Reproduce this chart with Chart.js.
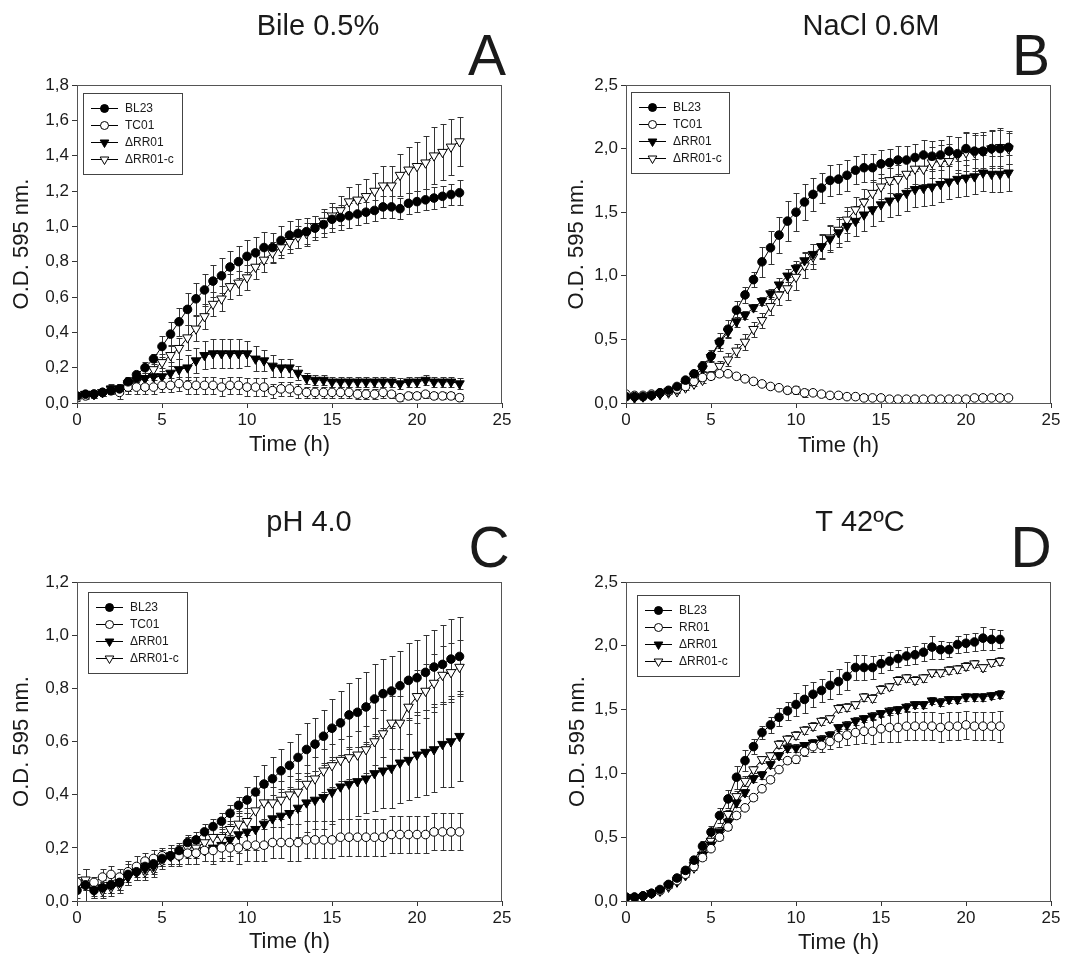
<!DOCTYPE html>
<html><head><meta charset="utf-8">
<script src="https://cdn.jsdelivr.net/npm/chart.js@4.4.1/dist/chart.umd.min.js"></script>
<style>
html,body{margin:0;padding:0;background:#fff;}
#wrap{position:relative;width:1089px;height:958px;overflow:hidden;}
canvas{position:absolute;}
</style></head><body><div id="wrap">
<canvas id="cA" width="545" height="479" style="left:0;top:0"></canvas>
<canvas id="cB" width="544" height="479" style="left:545px;top:0"></canvas>
<canvas id="cC" width="545" height="479" style="left:0;top:479px"></canvas>
<canvas id="cD" width="544" height="479" style="left:545px;top:479px"></canvas>
</div>
<script>
// ---------- data ----------
const timeABC = [0,0.5,1,1.5,2,2.5,3,3.5,4,4.5,5,5.5,6,6.5,7,7.5,8,8.5,9,9.5,10,10.5,11,11.5,12,12.5,13,13.5,14,14.5,15,15.5,16,16.5,17,17.5,18,18.5,19,19.5,20,20.5,21,21.5,22,22.5];
const timeD = [0,0.5,1,1.5,2,2.5,3,3.5,4,4.5,5,5.5,6,6.5,7,7.5,8,8.5,9,9.5,10,10.5,11,11.5,12,12.5,13,13.5,14,14.5,15,15.5,16,16.5,17,17.5,18,18.5,19,19.5,20,20.5,21,21.5,22];
const xTicks = [0,5,10,15,20,25];

// Panel A: Bile 0.5%
const bileBL23 = [0.04,0.05,0.05,0.06,0.07,0.08,0.12,0.16,0.20,0.25,0.32,0.39,0.46,0.53,0.59,0.64,0.69,0.72,0.77,0.80,0.83,0.85,0.88,0.88,0.92,0.95,0.96,0.97,0.99,1.01,1.04,1.05,1.06,1.07,1.08,1.09,1.11,1.11,1.10,1.13,1.14,1.15,1.16,1.17,1.18,1.19];
const bileBL23Err = [0.01,0.01,0.01,0.01,0.02,0.02,0.02,0.02,0.03,0.03,0.06,0.07,0.08,0.09,0.09,0.09,0.09,0.10,0.09,0.09,0.09,0.09,0.09,0.08,0.08,0.08,0.08,0.08,0.07,0.07,0.07,0.07,0.07,0.06,0.06,0.06,0.06,0.06,0.06,0.06,0.06,0.06,0.06,0.06,0.06,0.07];
const bileTC01 = [0.03,0.04,0.05,0.06,0.07,0.06,0.09,0.09,0.09,0.09,0.10,0.10,0.11,0.10,0.10,0.10,0.10,0.09,0.10,0.10,0.09,0.09,0.09,0.07,0.08,0.08,0.07,0.06,0.06,0.06,0.06,0.06,0.06,0.05,0.05,0.05,0.06,0.05,0.03,0.04,0.04,0.05,0.04,0.04,0.04,0.03];
const bileTC01Err = [0.02,0.02,0.02,0.02,0.02,0.04,0.04,0.04,0.04,0.04,0.04,0.04,0.04,0.05,0.05,0.05,0.05,0.05,0.05,0.05,0.05,0.05,0.05,0.04,0.04,0.04,0.04,0.03,0.03,0.03,0.03,0.03,0.03,0.03,0.03,0.03,0.03,0.02,0.02,0.02,0.02,0.02,0.02,0.02,0.02,0.02];
const bileRR01 = [0.04,0.05,0.05,0.06,0.08,0.08,0.11,0.13,0.14,0.15,0.15,0.17,0.19,0.20,0.24,0.27,0.28,0.28,0.28,0.28,0.28,0.25,0.24,0.21,0.20,0.20,0.17,0.14,0.13,0.13,0.12,0.12,0.12,0.12,0.12,0.12,0.12,0.12,0.11,0.12,0.12,0.13,0.12,0.12,0.12,0.11];
const bileRR01Err = [0.01,0.01,0.01,0.02,0.02,0.03,0.04,0.04,0.05,0.05,0.05,0.06,0.06,0.07,0.07,0.08,0.08,0.08,0.08,0.08,0.07,0.07,0.06,0.06,0.05,0.05,0.04,0.03,0.03,0.03,0.03,0.03,0.03,0.03,0.03,0.03,0.03,0.03,0.03,0.03,0.03,0.03,0.03,0.03,0.03,0.03];
const bileRR01c = [0.04,0.05,0.05,0.06,0.08,0.08,0.10,0.12,0.14,0.19,0.23,0.27,0.31,0.37,0.42,0.49,0.56,0.59,0.66,0.68,0.71,0.77,0.81,0.85,0.88,0.91,0.94,0.96,1.00,1.03,1.06,1.09,1.14,1.15,1.17,1.20,1.23,1.23,1.29,1.32,1.34,1.36,1.40,1.42,1.45,1.48];
const bileRR01cErr = [0.02,0.02,0.02,0.02,0.03,0.03,0.03,0.03,0.03,0.04,0.05,0.06,0.06,0.07,0.07,0.07,0.07,0.07,0.07,0.07,0.07,0.07,0.07,0.06,0.06,0.06,0.06,0.06,0.06,0.07,0.07,0.08,0.08,0.09,0.10,0.10,0.11,0.11,0.12,0.13,0.14,0.15,0.16,0.16,0.16,0.14];

// Panel B: NaCl 0.6M
const naclBL23 = [0.05,0.05,0.05,0.06,0.08,0.10,0.13,0.18,0.23,0.29,0.37,0.48,0.58,0.73,0.85,0.97,1.11,1.22,1.32,1.43,1.50,1.58,1.64,1.69,1.75,1.76,1.79,1.83,1.85,1.85,1.88,1.89,1.91,1.91,1.93,1.95,1.94,1.95,1.98,1.96,2.00,1.98,1.98,2.00,2.00,2.01];
const naclBL23Err = [0.01,0.01,0.01,0.01,0.01,0.01,0.02,0.02,0.03,0.04,0.05,0.07,0.07,0.07,0.06,0.06,0.12,0.13,0.14,0.16,0.15,0.14,0.13,0.12,0.12,0.12,0.12,0.11,0.11,0.11,0.11,0.11,0.11,0.11,0.11,0.12,0.12,0.12,0.12,0.13,0.13,0.13,0.13,0.14,0.15,0.13];
const naclTC01 = [0.07,0.06,0.06,0.07,0.08,0.09,0.11,0.13,0.17,0.20,0.21,0.23,0.23,0.21,0.19,0.17,0.15,0.13,0.12,0.10,0.10,0.08,0.08,0.07,0.06,0.06,0.05,0.05,0.04,0.04,0.04,0.03,0.03,0.03,0.03,0.03,0.03,0.03,0.03,0.03,0.03,0.04,0.04,0.04,0.04,0.04];
const naclTC01Err = [0.01,0.01,0.01,0.01,0.01,0.01,0.01,0.01,0.01,0.02,0.02,0.02,0.02,0.02,0.02,0.02,0.02,0.02,0.02,0.02,0.03,0.03,0.02,0.02,0.02,0.02,0.01,0.01,0.01,0.01,0.01,0.01,0.01,0.01,0.01,0.01,0.01,0.01,0.01,0.01,0.01,0.01,0.01,0.01,0.01,0.01];
const naclRR01 = [0.05,0.04,0.05,0.06,0.07,0.09,0.11,0.15,0.21,0.27,0.36,0.47,0.56,0.64,0.69,0.75,0.80,0.86,0.93,1.00,1.06,1.12,1.17,1.23,1.29,1.34,1.39,1.43,1.48,1.52,1.56,1.59,1.62,1.65,1.68,1.69,1.70,1.72,1.74,1.76,1.77,1.78,1.81,1.80,1.80,1.81];
const naclRR01Err = [0.01,0.01,0.01,0.01,0.01,0.01,0.02,0.02,0.02,0.03,0.03,0.04,0.04,0.04,0.03,0.03,0.03,0.04,0.05,0.05,0.06,0.07,0.08,0.09,0.10,0.11,0.12,0.12,0.13,0.13,0.13,0.13,0.14,0.14,0.14,0.14,0.14,0.14,0.14,0.14,0.14,0.14,0.14,0.14,0.14,0.14];
const naclRR01c = [0.05,0.05,0.05,0.06,0.07,0.08,0.09,0.12,0.15,0.18,0.22,0.29,0.34,0.41,0.48,0.58,0.65,0.76,0.85,0.90,0.99,1.08,1.15,1.23,1.30,1.36,1.44,1.52,1.58,1.65,1.70,1.75,1.76,1.80,1.84,1.84,1.89,1.90,1.90,1.95,1.97,1.97,1.98,2.00,2.01,2.00];
const naclRR01cErr = [0.01,0.01,0.01,0.01,0.01,0.01,0.01,0.02,0.02,0.02,0.03,0.04,0.05,0.05,0.06,0.06,0.06,0.07,0.08,0.09,0.10,0.10,0.10,0.10,0.10,0.10,0.10,0.10,0.10,0.10,0.10,0.10,0.11,0.11,0.12,0.12,0.12,0.13,0.14,0.14,0.15,0.15,0.15,0.15,0.15,0.12];

// Panel C: pH 4.0
const phBL23 = [0.04,0.06,0.04,0.05,0.06,0.07,0.10,0.11,0.13,0.14,0.16,0.17,0.19,0.22,0.23,0.26,0.28,0.30,0.33,0.36,0.38,0.41,0.44,0.46,0.49,0.51,0.54,0.57,0.59,0.62,0.65,0.67,0.70,0.71,0.73,0.76,0.78,0.79,0.81,0.83,0.84,0.86,0.88,0.89,0.91,0.92];
const phBL23Err = [0.03,0.06,0.03,0.02,0.03,0.03,0.04,0.03,0.03,0.03,0.03,0.03,0.03,0.03,0.03,0.03,0.03,0.03,0.03,0.03,0.05,0.06,0.07,0.08,0.08,0.09,0.09,0.10,0.10,0.10,0.11,0.12,0.12,0.13,0.13,0.13,0.13,0.13,0.13,0.14,0.14,0.14,0.14,0.15,0.15,0.15];
const phTC01 = [0.07,0.06,0.07,0.09,0.10,0.09,0.11,0.13,0.15,0.16,0.17,0.17,0.17,0.18,0.18,0.19,0.19,0.20,0.20,0.20,0.21,0.21,0.21,0.22,0.22,0.22,0.22,0.23,0.23,0.23,0.23,0.24,0.24,0.24,0.24,0.24,0.24,0.25,0.25,0.25,0.25,0.25,0.26,0.26,0.26,0.26];
const phTC01Err = [0.02,0.02,0.02,0.03,0.03,0.03,0.04,0.04,0.03,0.03,0.03,0.03,0.03,0.04,0.04,0.04,0.05,0.05,0.05,0.06,0.06,0.06,0.06,0.06,0.06,0.07,0.07,0.07,0.07,0.07,0.07,0.07,0.07,0.07,0.07,0.07,0.07,0.07,0.07,0.07,0.07,0.07,0.07,0.07,0.07,0.07];
const phRR01 = [0.06,0.06,0.04,0.05,0.06,0.07,0.09,0.11,0.12,0.13,0.16,0.17,0.17,0.18,0.18,0.19,0.20,0.21,0.23,0.25,0.26,0.27,0.29,0.31,0.32,0.33,0.35,0.37,0.38,0.39,0.41,0.43,0.44,0.45,0.46,0.48,0.49,0.50,0.52,0.53,0.55,0.56,0.57,0.59,0.60,0.62];
const phRR01Err = [0.03,0.06,0.03,0.03,0.03,0.03,0.03,0.03,0.03,0.03,0.03,0.04,0.04,0.04,0.04,0.04,0.05,0.05,0.06,0.07,0.07,0.08,0.09,0.09,0.10,0.10,0.11,0.11,0.11,0.12,0.12,0.12,0.13,0.13,0.13,0.14,0.14,0.15,0.15,0.15,0.16,0.16,0.16,0.16,0.17,0.17];
const phRR01c = [0.07,0.08,0.05,0.04,0.05,0.06,0.09,0.11,0.11,0.12,0.15,0.17,0.17,0.20,0.20,0.22,0.24,0.24,0.27,0.29,0.30,0.34,0.37,0.37,0.38,0.40,0.41,0.44,0.46,0.49,0.51,0.53,0.54,0.55,0.57,0.60,0.63,0.67,0.67,0.73,0.77,0.79,0.82,0.85,0.86,0.88];
const phRR01cErr = [0.03,0.04,0.03,0.03,0.03,0.03,0.03,0.03,0.03,0.03,0.03,0.03,0.03,0.04,0.04,0.04,0.04,0.04,0.05,0.05,0.05,0.06,0.06,0.06,0.07,0.07,0.07,0.07,0.08,0.08,0.08,0.08,0.08,0.09,0.09,0.09,0.09,0.10,0.10,0.10,0.10,0.10,0.11,0.11,0.11,0.10];

// Panel D: T 42ºC
const tBL23 = [0.03,0.03,0.04,0.06,0.09,0.13,0.18,0.24,0.32,0.43,0.54,0.67,0.80,0.97,1.10,1.21,1.32,1.38,1.44,1.49,1.54,1.58,1.62,1.65,1.69,1.72,1.76,1.83,1.83,1.83,1.86,1.88,1.90,1.92,1.93,1.95,1.99,1.97,1.97,2.01,2.02,2.03,2.06,2.05,2.05];
const tBL23Err = [0.01,0.01,0.01,0.01,0.01,0.02,0.02,0.02,0.03,0.04,0.05,0.06,0.07,0.09,0.08,0.06,0.05,0.06,0.07,0.07,0.09,0.11,0.10,0.09,0.11,0.10,0.11,0.10,0.10,0.09,0.07,0.07,0.07,0.07,0.07,0.07,0.09,0.07,0.06,0.07,0.07,0.07,0.09,0.08,0.07];
const tRR01 = [0.03,0.03,0.04,0.06,0.08,0.12,0.16,0.21,0.27,0.34,0.41,0.50,0.58,0.67,0.73,0.81,0.88,0.95,1.03,1.10,1.11,1.17,1.21,1.22,1.25,1.28,1.30,1.32,1.33,1.33,1.35,1.36,1.36,1.37,1.37,1.37,1.37,1.36,1.37,1.37,1.38,1.37,1.37,1.37,1.37];
const tRR01Err = [0.01,0.01,0.01,0.01,0.01,0.01,0.01,0.01,0.02,0.02,0.02,0.02,0.02,0.02,0.02,0.02,0.02,0.02,0.02,0.02,0.03,0.03,0.04,0.05,0.06,0.07,0.08,0.09,0.09,0.10,0.10,0.11,0.11,0.11,0.11,0.11,0.11,0.11,0.11,0.11,0.11,0.11,0.11,0.11,0.12];
const tdRR01 = [0.03,0.02,0.03,0.06,0.08,0.12,0.16,0.21,0.28,0.36,0.44,0.54,0.62,0.77,0.85,0.96,0.99,1.07,1.14,1.20,1.20,1.22,1.24,1.27,1.30,1.36,1.38,1.41,1.43,1.45,1.47,1.49,1.50,1.52,1.54,1.54,1.57,1.56,1.58,1.58,1.60,1.60,1.60,1.61,1.62];
const tdRR01Err = [0.01,0.01,0.01,0.01,0.01,0.01,0.01,0.01,0.02,0.02,0.02,0.03,0.03,0.03,0.03,0.03,0.03,0.03,0.03,0.03,0.03,0.03,0.03,0.03,0.03,0.03,0.03,0.03,0.03,0.03,0.03,0.03,0.03,0.03,0.03,0.03,0.03,0.03,0.03,0.03,0.03,0.03,0.03,0.03,0.03];
const tdRR01c = [0.02,0.02,0.03,0.06,0.08,0.11,0.15,0.20,0.26,0.36,0.47,0.55,0.68,0.82,0.94,1.03,1.11,1.14,1.23,1.27,1.30,1.34,1.37,1.41,1.43,1.51,1.52,1.54,1.60,1.59,1.66,1.68,1.73,1.75,1.73,1.75,1.79,1.79,1.81,1.82,1.84,1.86,1.83,1.87,1.88];
const tdRR01cErr = [0.01,0.01,0.01,0.01,0.01,0.01,0.01,0.01,0.02,0.02,0.02,0.03,0.03,0.04,0.04,0.03,0.03,0.03,0.03,0.03,0.03,0.03,0.03,0.03,0.03,0.03,0.03,0.03,0.03,0.03,0.03,0.03,0.03,0.03,0.03,0.03,0.03,0.03,0.03,0.03,0.03,0.03,0.03,0.03,0.03];

// ---------- styling / layout ----------
const FONT = '"Liberation Sans", Arial, Helvetica, sans-serif';
const INK = '#1a1a1a';
const STYLES = {
  BL23:  {pointStyle:'circle', filled:true},
  TC01:  {pointStyle:'circle', filled:false},
  dRR:   {pointStyle:'triangle', filled:true},
  dRRc:  {pointStyle:'triangle', filled:false}
};

const panels = [
  {id:'cA', W:545, H:479, title:'Bile 0.5%', letter:'A', time:timeABC, yMax:1.8, yStep:0.2,
   area:{l:77,t:85,r:502,b:403}, titlePos:[318,35], letterPos:[487,75], yTitleX:22, xTitleY:445,
   legend:{dx:6,dy:8,w:99,h:81},
   series:[['BL23',bileBL23,bileBL23Err,'BL23'],['TC01',bileTC01,bileTC01Err,'TC01'],['\u0394RR01',bileRR01,bileRR01Err,'dRR'],['\u0394RR01-c',bileRR01c,bileRR01cErr,'dRRc']]},
  {id:'cB', W:544, H:479, title:'NaCl 0.6M', letter:'B', time:timeABC, yMax:2.5, yStep:0.5,
   area:{l:81,t:85,r:506,b:403}, titlePos:[326,35], letterPos:[486,75], yTitleX:32, xTitleY:446,
   legend:{dx:5,dy:7,w:98,h:81},
   series:[['BL23',naclBL23,naclBL23Err,'BL23'],['TC01',naclTC01,naclTC01Err,'TC01'],['\u0394RR01',naclRR01,naclRR01Err,'dRR'],['\u0394RR01-c',naclRR01c,naclRR01cErr,'dRRc']]},
  {id:'cC', W:545, H:479, title:'pH 4.0', letter:'C', time:timeABC, yMax:1.2, yStep:0.2,
   area:{l:77,t:103,r:502,b:422}, titlePos:[309,52], letterPos:[489,88], yTitleX:22, xTitleY:463,
   legend:{dx:11,dy:10,w:99,h:81},
   series:[['BL23',phBL23,phBL23Err,'BL23'],['TC01',phTC01,phTC01Err,'TC01'],['\u0394RR01',phRR01,phRR01Err,'dRR'],['\u0394RR01-c',phRR01c,phRR01cErr,'dRRc']]},
  {id:'cD', W:544, H:479, title:'T 42\u00baC', letter:'D', time:timeD, yMax:2.5, yStep:0.5,
   area:{l:81,t:103,r:506,b:422}, titlePos:[315,52], letterPos:[486,88], yTitleX:33, xTitleY:464,
   legend:{dx:11,dy:13,w:102,h:81},
   series:[['BL23',tBL23,tBL23Err,'BL23'],['RR01',tRR01,tRR01Err,'TC01'],['\u0394RR01',tdRR01,tdRR01Err,'dRR'],['\u0394RR01-c',tdRR01c,tdRR01cErr,'dRRc']]}
];

function drawMarker(ctx, style, filled, x, y, r) {
  ctx.beginPath();
  if (style === 'circle') {
    ctx.arc(x, y, r, 0, Math.PI * 2);
  } else {
    // downward-pointing triangle
    const s = Math.sin(Math.PI / 3) * r, c = Math.cos(Math.PI / 3) * r;
    ctx.moveTo(x, y + r);
    ctx.lineTo(x - s, y - c);
    ctx.lineTo(x + s, y - c);
    ctx.closePath();
  }
  ctx.fillStyle = filled ? '#000' : '#fff';
  ctx.fill();
  ctx.lineWidth = 1;
  ctx.strokeStyle = '#000';
  ctx.stroke();
}

const errorBarPlugin = {
  id: 'errorBars',
  beforeDatasetsDraw(chart) {
    const {ctx, chartArea: a, scales: {x, y}} = chart;
    ctx.save();
    ctx.beginPath(); ctx.rect(a.left, a.top - 20, a.right - a.left, a.bottom - a.top + 20); ctx.clip();
    ctx.strokeStyle = '#333';
    ctx.lineWidth = 1;
    chart.data.datasets.forEach(ds => {
      ds.data.forEach((p, i) => {
        const e = ds.errors[i];
        const px = Math.round(x.getPixelForValue(p.x)) + 0.5;
        const y1 = Math.round(y.getPixelForValue(p.y + e)) + 0.5;
        const y2 = Math.round(y.getPixelForValue(p.y - e)) + 0.5;
        ctx.beginPath();
        ctx.moveTo(px, y1); ctx.lineTo(px, y2);
        ctx.moveTo(px - 3, y1); ctx.lineTo(px + 3, y1);
        ctx.moveTo(px - 3, y2); ctx.lineTo(px + 3, y2);
        ctx.stroke();
      });
    });
    ctx.restore();
  }
};

const decorPlugin = {
  id: 'decor',
  afterDraw(chart) {
    const p = chart.options.plugins.decor;
    const {ctx, chartArea: a} = chart;
    ctx.save();
    // frame
    ctx.strokeStyle = '#555';
    ctx.lineWidth = 1;
    ctx.strokeRect(a.left + 0.5, a.top + 0.5, a.right - a.left - 1, a.bottom - a.top);
    // legend
    const lg = p.legend;
    const x0 = a.left + lg.dx, y0 = a.top + lg.dy;
    ctx.fillStyle = '#fff';
    ctx.fillRect(x0, y0, lg.w, lg.h);
    ctx.strokeStyle = '#444';
    ctx.strokeRect(x0 + 0.5, y0 + 0.5, lg.w, lg.h);
    ctx.font = '12px ' + FONT;
    ctx.textBaseline = 'middle';
    ctx.textAlign = 'left';
    chart.data.datasets.forEach((ds, i) => {
      const cy = y0 + 15 + i * 17;
      ctx.strokeStyle = '#000'; ctx.lineWidth = 1;
      ctx.beginPath(); ctx.moveTo(x0 + 8, cy + 0.5); ctx.lineTo(x0 + 35, cy + 0.5); ctx.stroke();
      drawMarker(ctx, ds.pointStyle, ds.filledMarker, x0 + 21.5, cy + 0.5, ds.pointStyle === 'circle' ? 4 : 5);
      ctx.fillStyle = INK;
      ctx.fillText(ds.label, x0 + 42, cy + 1);
    });
    // titles
    ctx.fillStyle = INK;
    ctx.textAlign = 'center';
    ctx.textBaseline = 'alphabetic';
    ctx.font = '29px ' + FONT;
    ctx.fillText(p.title, p.titlePos[0], p.titlePos[1]);
    ctx.font = '57px ' + FONT;
    ctx.fillText(p.letter, p.letterPos[0], p.letterPos[1]);
    // axis titles
    ctx.font = '22px ' + FONT;
    ctx.textBaseline = 'middle';
    ctx.fillText('Time (h)', (a.left + a.right) / 2, p.xTitleY);
    ctx.save();
    ctx.translate(p.yTitleX, (a.top + a.bottom) / 2);
    ctx.rotate(-Math.PI / 2);
    ctx.fillText('O.D. 595 nm.', 0, 0);
    ctx.restore();
    ctx.restore();
  }
};

panels.forEach(p => {
  const datasets = p.series.map(([label, vals, errs, key]) => {
    const st = STYLES[key];
    const tri = st.pointStyle === 'triangle';
    return {
      label,
      data: p.time.map((t, i) => ({x: t, y: vals[i]})),
      errors: errs,
      borderColor: '#000',
      borderWidth: 1,
      backgroundColor: '#000',
      pointStyle: st.pointStyle,
      filledMarker: st.filled,
      pointRotation: tri ? 180 : 0,
      pointRadius: tri ? 5.5 : 4.3,
      pointBackgroundColor: st.filled ? '#000' : '#fff',
      pointBorderColor: '#000',
      pointBorderWidth: 1,
      tension: 0,
      fill: false
    };
  });
  const a = p.area;
  new Chart(document.getElementById(p.id), {
    type: 'line',
    data: {datasets},
    options: {
      responsive: false,
      animation: false,
      devicePixelRatio: 1,
      layout: {padding: {left: 0, top: a.t, right: p.W - a.r, bottom: 0}},
      plugins: {
        legend: {display: false},
        tooltip: {enabled: false},
        decor: p
      },
      scales: {
        x: {
          type: 'linear', min: 0, max: 25,
          afterBuildTicks: s => { s.ticks = xTicks.map(v => ({value: v})); },
          afterFit: s => { s.height = p.H - a.b; },
          grid: {display: true, drawOnChartArea: false, drawTicks: true, tickLength: 5, color: '#333'},
          border: {display: false},
          ticks: {color: INK, font: {family: FONT, size: 17}, padding: 2, maxRotation: 0, autoSkip: false}
        },
        y: {
          type: 'linear', min: 0, max: p.yMax,
          ticks: {stepSize: p.yStep, color: INK, font: {family: FONT, size: 17}, padding: 3,
                  callback: v => Number(v).toFixed(1).replace('.', ',')},
          afterFit: s => { s.width = a.l; },
          grid: {display: true, drawOnChartArea: false, drawTicks: true, tickLength: 5, color: '#333'},
          border: {display: false}
        }
      }
    },
    plugins: [errorBarPlugin, decorPlugin]
  });
});
</script>
</body></html>
